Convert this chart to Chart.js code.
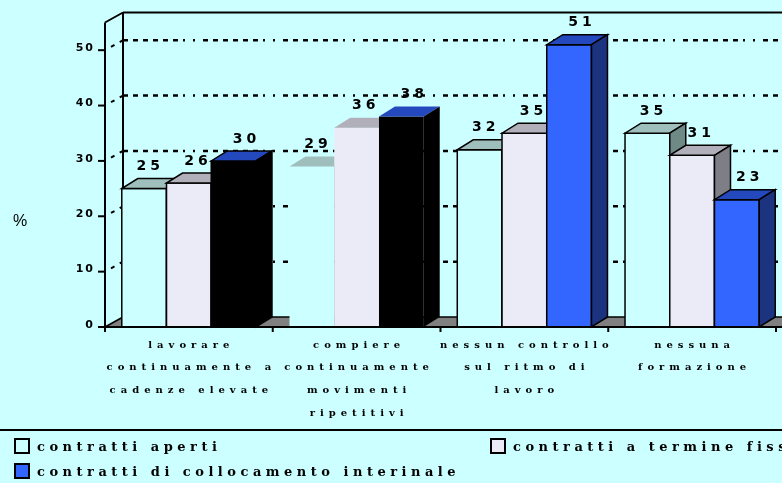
<!DOCTYPE html>
<html>
<head>
<meta charset="utf-8">
<script src="https://cdn.jsdelivr.net/npm/chart.js@4.4.1/dist/chart.umd.min.js"></script>
<style>
  html, body { margin: 0; padding: 0; background: #ccffff; }
  #wrap { width: 782px; height: 483px; }
</style>
</head>
<body>
<div id="wrap"><canvas id="grafico" width="782" height="483"></canvas></div>
<script>
// Dati: quota di lavoratori (%) per tipo di contratto
var categorie = [
  ['lavorare', 'continuamente a', 'cadenze elevate'],
  ['compiere', 'continuamente', 'movimenti', 'ripetitivi'],
  ['nessun controllo', 'sul ritmo di', 'lavoro'],
  ['nessuna', 'formazione']
];
var nomiSerie = ['contratti aperti', 'contratti a termine fisso', 'contratti di collocamento interinale'];
var aperti = [25, 29, 32, 35];
var termineFisso = [26, 36, 35, 31];
var interinale = [30, 38, 51, 23];
var yTicks = [0, 10, 20, 30, 40, 50];

var BG = '#ccffff';
var PROF_BARRA = { dx: 16, dy: -10 };
var PROF_PARETE = { dx: 18, dy: -10 };
var TRATTEGGIO = [5, 5, 5, 5, 5, 5, 5, 5, 5, 5, 5, 5, 2, 8, 2, 8];
var SANS = '"DejaVu Sans", Arial, sans-serif';
var SERIF = '"DejaVu Serif", "Times New Roman", serif';

// testo con spaziatura tra le lettere, carattere per carattere
function testoSpaziato(ctx, s, x, y, sp, align) {
  var ws = [], tot = 0;
  for (var i = 0; i < s.length; i++) { var w = ctx.measureText(s[i]).width; ws.push(w); tot += w; }
  tot += sp * (s.length - 1);
  var cx = align === 'center' ? x - tot / 2 : (align === 'right' ? x - tot : x);
  ctx.textAlign = 'left';
  for (var j = 0; j < s.length; j++) { ctx.fillText(s[j], cx, y); cx += ws[j] + sp; }
}

function poligono(ctx, pts, fill, stroke, lw) {
  ctx.beginPath();
  ctx.moveTo(pts[0][0], pts[0][1]);
  for (var i = 1; i < pts.length; i++) ctx.lineTo(pts[i][0], pts[i][1]);
  ctx.closePath();
  if (fill) { ctx.fillStyle = fill; ctx.fill(); }
  if (stroke && lw > 0) { ctx.strokeStyle = stroke; ctx.lineWidth = lw; ctx.stroke(); }
}

function linea(ctx, x1, y1, x2, y2) {
  ctx.beginPath(); ctx.moveTo(x1, y1); ctx.lineTo(x2, y2); ctx.stroke();
}

function pick(v, i) { return Array.isArray(v) ? v[i] : v; }

var scena3d = {
  id: 'scena3d',
  beforeDraw: function (chart) {
    var ctx = chart.ctx;
    ctx.save();
    ctx.fillStyle = BG;
    ctx.fillRect(0, 0, chart.width, chart.height);
    ctx.restore();
  },
  beforeDatasetsDraw: function (chart) {
    var ctx = chart.ctx, ca = chart.chartArea, ys = chart.scales.y;
    var L = ca.left, R = ca.right, T = ca.top, B = ys.getPixelForValue(0), W = chart.width;
    var pdx = PROF_PARETE.dx, pdy = PROF_PARETE.dy;
    ctx.save();

    // griglia tratteggiata su parete di fondo e parete laterale
    ctx.setLineDash(TRATTEGGIO);
    ctx.lineWidth = 2.5;
    ctx.strokeStyle = '#000';
    yTicks.forEach(function (v) {
      if (v === 0) return;
      var y = ys.getPixelForValue(v);
      linea(ctx, L + pdx, y + pdy, W, y + pdy);
    });
    ctx.lineWidth = 2;
    ctx.setLineDash([4, 6]);
    yTicks.forEach(function (v) {
      if (v === 0) return;
      var y = ys.getPixelForValue(v);
      linea(ctx, L + 6, y - 3.3, L + pdx, y + pdy);
    });
    ctx.setLineDash([]);

    // pavimento
    poligono(ctx, [[L, B], [R + 30, B], [R + 30 + pdx, B + pdy], [L + pdx, B + pdy]], '#808080', null, 0);
    ctx.strokeStyle = '#000';
    ctx.lineWidth = 1.5;
    linea(ctx, L + pdx, B + pdy, W, B + pdy);
    linea(ctx, L, B, L + pdx, B + pdy);

    // contorni pareti
    ctx.lineWidth = 2;
    linea(ctx, L + pdx, T + pdy, L + pdx, B + pdy);
    linea(ctx, L, T, L + pdx, T + pdy);
    linea(ctx, L + pdx, T + pdy, W, T + pdy);

    // barre 3D, categoria per categoria da sinistra a destra
    var bdx = PROF_BARRA.dx, bdy = PROF_BARRA.dy;
    var nCat = chart.data.labels.length;
    for (var i = 0; i < nCat; i++) {
      chart.data.datasets.forEach(function (ds, d) {
        var el = chart.getDatasetMeta(d).data[i];
        var x0 = el.x - el.width / 2, x1 = el.x + el.width / 2, yt = el.y, yb = el.base;
        var bw = pick(ds.borderWidth, i);
        var bc = '#000';
        poligono(ctx, [[x0, yb], [x0, yt], [x1, yt], [x1, yb]], pick(ds.backgroundColor, i), bc, bw);
        poligono(ctx, [[x0, yt], [x1, yt], [x1 + bdx, yt + bdy], [x0 + bdx, yt + bdy]], pick(ds.coloreTop, i), bc, bw);
        poligono(ctx, [[x1, yt], [x1 + bdx, yt + bdy], [x1 + bdx, yb + bdy], [x1, yb]], pick(ds.coloreLato, i), bc, bw);
      });
    }

    // valori sopra le barre
    ctx.fillStyle = '#000';
    ctx.font = 'bold 14px ' + SANS;
    ctx.textBaseline = 'middle';
    chart.data.datasets.forEach(function (ds, d) {
      chart.getDatasetMeta(d).data.forEach(function (el, i) {
        testoSpaziato(ctx, String(ds.data[i]), el.x + ds.offsetEtichetta, el.y + bdy - 12, 4, 'center');
      });
    });

    // asse frontale
    ctx.strokeStyle = '#000';
    ctx.lineWidth = 2;
    linea(ctx, L, T, L, B + 5);
    linea(ctx, L - 6, B, W, B);
    var passo = (R - L) / nCat;
    for (var k = 0; k <= nCat; k++) linea(ctx, L + k * passo, B, L + k * passo, B + 5);
    yTicks.forEach(function (v) {
      var y = ys.getPixelForValue(v);
      linea(ctx, L - 7, y, L, y);
    });

    ctx.restore();
    return false;
  },
  afterDraw: function (chart) {
    var ctx = chart.ctx, ca = chart.chartArea, ys = chart.scales.y, xs = chart.scales.x;
    var W = chart.width;
    ctx.save();
    ctx.fillStyle = '#000';
    ctx.textBaseline = 'middle';

    // etichette asse y
    ctx.font = 'bold 11px ' + SANS;
    yTicks.forEach(function (v) {
      testoSpaziato(ctx, String(v), ca.left - 12, ys.getPixelForValue(v) - 2, 2, 'right');
    });

    ctx.font = '16px "Liberation Sans", Arial, sans-serif';
    ctx.textAlign = 'center';
    ctx.fillText('%', 20, 222);

    // etichette categorie
    ctx.font = 'bold 10px ' + SERIF;
    categorie.forEach(function (righe, i) {
      var cx = xs.getPixelForValue(i);
      righe.forEach(function (r, j) {
        testoSpaziato(ctx, r, cx, 345 + j * 22.7, 5, 'center');
      });
    });

    // separatore e legenda
    ctx.strokeStyle = '#000';
    ctx.lineWidth = 2;
    linea(ctx, 0, 430, W, 430);

    var voci = [
      { x: 15, y: 439, colore: chart.data.datasets[0].coloreLegenda },
      { x: 491, y: 439, colore: chart.data.datasets[1].coloreLegenda },
      { x: 15, y: 464, colore: chart.data.datasets[2].coloreLegenda }
    ];
    ctx.font = 'bold 13px ' + SERIF;
    ctx.textBaseline = 'alphabetic';
    voci.forEach(function (v, k) {
      ctx.fillStyle = v.colore;
      ctx.fillRect(v.x, v.y, 14, 14);
      ctx.lineWidth = 2;
      ctx.strokeRect(v.x, v.y, 14, 14);
      ctx.fillStyle = '#000';
      testoSpaziato(ctx, nomiSerie[k], v.x + 22, v.y + 12, 4.5, 'left');
    });
    ctx.restore();
  }
};

new Chart(document.getElementById('grafico'), {
  type: 'bar',
  data: {
    labels: categorie,
    datasets: [
      {
        label: nomiSerie[0], data: aperti,
        backgroundColor: '#ccffff', coloreTop: '#9ebfbc', coloreLato: '#6e8a87', coloreLegenda: '#ccffff',
        borderWidth: [1.5, 0, 1.5, 1.5], offsetEtichetta: 4
      },
      {
        label: nomiSerie[1], data: termineFisso,
        backgroundColor: '#ebebf8', coloreTop: '#b0afba', coloreLato: '#7e7e86', coloreLegenda: '#ebebf8',
        borderWidth: [1.5, 0, 1.5, 1.5], offsetEtichetta: 7
      },
      {
        label: nomiSerie[2], data: interinale,
        backgroundColor: ['#000000', '#000000', '#3366ff', '#3366ff'],
        coloreTop: '#2449bf',
        coloreLato: ['#000000', '#000000', '#1c3380', '#1c3380'],
        coloreLegenda: '#3366ff',
        borderWidth: [1.5, 0, 1.5, 1.5], offsetEtichetta: 11
      }
    ]
  },
  options: {
    responsive: false,
    devicePixelRatio: 1,
    animation: false,
    layout: { padding: { left: 105, right: 6, top: 22.5, bottom: 156 } },
    datasets: { bar: { categoryPercentage: 0.8, barPercentage: 1.0 } },
    plugins: { legend: { display: false }, tooltip: { enabled: false } },
    scales: {
      x: { display: false, offset: true },
      y: { display: false, min: 0, max: 55 }
    }
  },
  plugins: [scena3d]
});
</script>
</body>
</html>
